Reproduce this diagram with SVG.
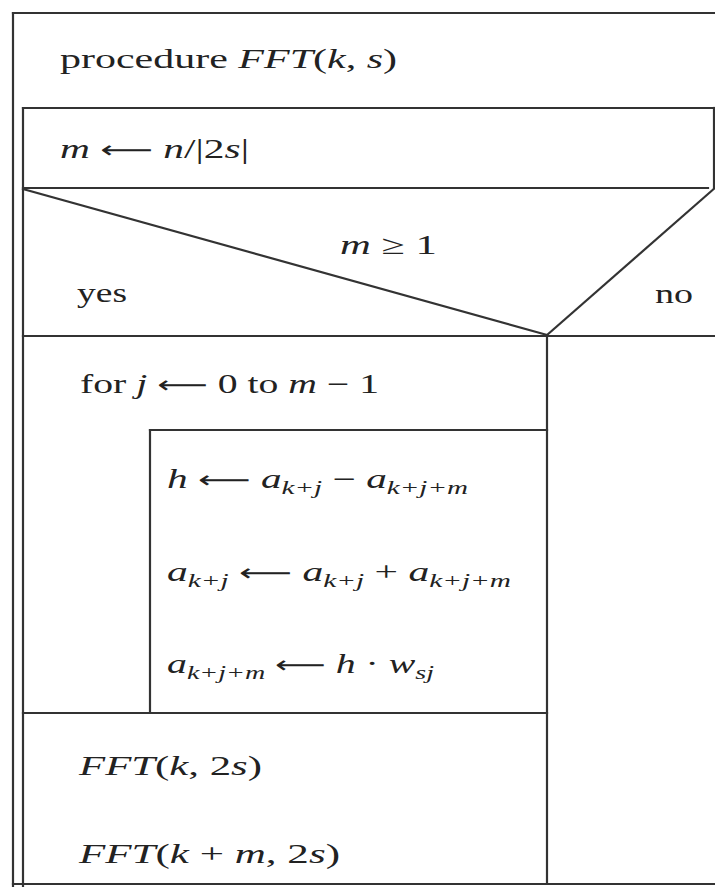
<svg xmlns="http://www.w3.org/2000/svg" width="715" height="887" viewBox="0 0 715 887">
<style>
  .ln { stroke: #333; stroke-width: 2.2; fill: none; stroke-linecap: square; }
  .t { font-family: "Liberation Serif", "DejaVu Serif", serif; font-size: 27px; fill: #222; }
  .i { font-style: italic; }
  .sub { font-style: italic; font-size: 19px; }
  .ar { font-family: "DejaVu Sans", "Noto Sans", sans-serif; font-size: 24px; font-style: normal; }
</style>
<rect width="715" height="887" fill="#fff"/>
<g id="connectors">
  <line class="ln" x1="13" y1="13" x2="715" y2="13"/>
  <line class="ln" x1="13" y1="13" x2="13" y2="887"/>
  <line class="ln" x1="13" y1="884" x2="715" y2="884"/>
  <line class="ln" x1="23" y1="108" x2="714" y2="108"/>
  <line class="ln" x1="23" y1="108" x2="23" y2="887"/>
  <line class="ln" x1="714" y1="108" x2="714" y2="188"/>
  <line class="ln" x1="23" y1="188" x2="708" y2="188"/>
  <line class="ln" x1="23" y1="189" x2="547" y2="335"/>
  <line class="ln" x1="547" y1="335" x2="716" y2="187"/>
  <line class="ln" x1="23" y1="336" x2="715" y2="336"/>
  <line class="ln" x1="547" y1="336" x2="547" y2="884"/>
  <line class="ln" x1="150" y1="430" x2="547" y2="430"/>
  <line class="ln" x1="150" y1="430" x2="150" y2="713"/>
  <line class="ln" x1="23" y1="713" x2="547" y2="713"/>
</g>
<g id="procedure">
  <text class="t" x="60" y="68" textLength="337" lengthAdjust="spacingAndGlyphs">procedure <tspan class="i">FFT</tspan>(<tspan class="i">k</tspan>, <tspan class="i">s</tspan>)</text>
</g>
<g id="assign-m">
  <text class="t" x="60" y="158" textLength="189" lengthAdjust="spacingAndGlyphs"><tspan class="i">m</tspan> <tspan class="ar">⟵</tspan> <tspan class="i">n</tspan>/|2<tspan class="i">s</tspan>|</text>
</g>
<g id="decision">
  <text class="t" x="340" y="254" textLength="97" lengthAdjust="spacingAndGlyphs"><tspan class="i">m</tspan> ≥ 1</text>
  <text class="t" x="77" y="302" textLength="50" lengthAdjust="spacingAndGlyphs">yes</text>
  <text class="t" x="655" y="303" textLength="38" lengthAdjust="spacingAndGlyphs">no</text>
</g>
<g id="for-loop">
  <text class="t" x="80" y="393" textLength="299" lengthAdjust="spacingAndGlyphs">for <tspan class="i">j</tspan> <tspan class="ar">⟵</tspan> 0 to <tspan class="i">m</tspan> − 1</text>
</g>
<g id="loop-body">
  <text class="t" x="167" y="488" textLength="301" lengthAdjust="spacingAndGlyphs"><tspan class="i">h</tspan> <tspan class="ar">⟵</tspan> <tspan class="i">a</tspan><tspan class="sub" dy="6">k+j</tspan><tspan dy="-6"> − </tspan><tspan class="i">a</tspan><tspan class="sub" dy="6">k+j+m</tspan></text>
  <text class="t" x="167" y="581" textLength="344" lengthAdjust="spacingAndGlyphs"><tspan class="i">a</tspan><tspan class="sub" dy="6">k+j</tspan><tspan dy="-6"> </tspan><tspan class="ar">⟵</tspan> <tspan class="i">a</tspan><tspan class="sub" dy="6">k+j</tspan><tspan dy="-6"> + </tspan><tspan class="i">a</tspan><tspan class="sub" dy="6">k+j+m</tspan></text>
  <text class="t" x="167" y="673" textLength="267" lengthAdjust="spacingAndGlyphs"><tspan class="i">a</tspan><tspan class="sub" dy="6">k+j+m</tspan><tspan dy="-6"> </tspan><tspan class="ar">⟵</tspan> <tspan class="i">h</tspan> · <tspan class="i">w</tspan><tspan class="sub" dy="6">sj</tspan></text>
</g>
<g id="recursive-calls">
  <text class="t" x="79" y="775" textLength="183" lengthAdjust="spacingAndGlyphs"><tspan class="i">FFT</tspan>(<tspan class="i">k</tspan>, 2<tspan class="i">s</tspan>)</text>
  <text class="t" x="79" y="863" textLength="261" lengthAdjust="spacingAndGlyphs"><tspan class="i">FFT</tspan>(<tspan class="i">k</tspan> + <tspan class="i">m</tspan>, 2<tspan class="i">s</tspan>)</text>
</g>
</svg>
